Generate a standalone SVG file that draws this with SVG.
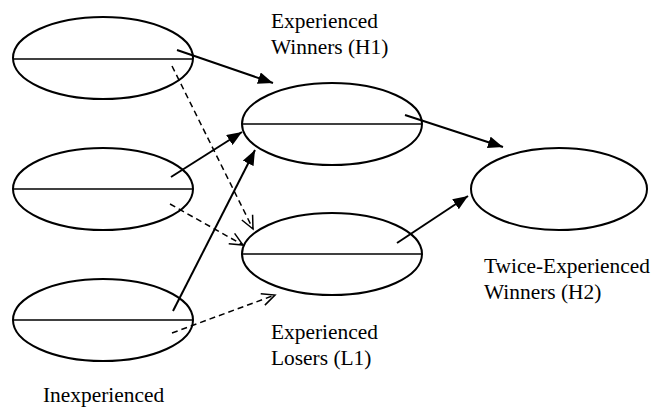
<svg xmlns="http://www.w3.org/2000/svg" width="652" height="407" viewBox="0 0 652 407">
<defs>
<style>
.node ellipse{fill:none;stroke:#000;stroke-width:2}
.node line{stroke:#000;stroke-width:1.6}
.solid{stroke:#000;stroke-width:2;fill:none}
.dash{stroke:#000;stroke-width:1.5;fill:none;stroke-dasharray:6 4}
text{font-family:"Liberation Serif","Times New Roman",serif;font-size:21.4px;fill:#000}
</style>
<marker id="fill" markerUnits="userSpaceOnUse" markerWidth="16" markerHeight="12" refX="15" refY="6" orient="auto">
<path d="M0,0 L15,6 L0,12 z" fill="#000"/>
</marker>
<marker id="open" markerUnits="userSpaceOnUse" markerWidth="16" markerHeight="14" refX="14" refY="7" orient="auto">
<path d="M1,1 L14,7 L1,13" fill="none" stroke="#000" stroke-width="1.5"/>
</marker>
</defs>
<rect width="652" height="407" fill="#fff"/>
<g id="inexp1" class="node"><ellipse cx="103" cy="58" rx="90" ry="41"/><line x1="13" y1="59" x2="193" y2="59"/></g>
<g id="inexp2" class="node"><ellipse cx="103" cy="189" rx="90" ry="41"/><line x1="13" y1="189" x2="193" y2="189"/></g>
<g id="inexp3" class="node"><ellipse cx="103" cy="320" rx="90" ry="41"/><line x1="13" y1="320" x2="193" y2="320"/></g>
<g id="h1" class="node"><ellipse cx="332" cy="124" rx="90" ry="41"/><line x1="242" y1="124" x2="422" y2="124"/></g>
<g id="l1" class="node"><ellipse cx="332" cy="254" rx="90" ry="41"/><line x1="242" y1="254" x2="422" y2="254"/></g>
<g id="h2" class="node"><ellipse cx="559" cy="189" rx="88" ry="41"/></g>
<g id="connectors">
<line class="solid" x1="177" y1="50" x2="273" y2="83" marker-end="url(#fill)"/>
<line class="solid" x1="171" y1="177" x2="242" y2="132" marker-end="url(#fill)"/>
<line class="solid" x1="173" y1="311" x2="255" y2="150" marker-end="url(#fill)"/>
<line class="solid" x1="405" y1="115" x2="503" y2="147" marker-end="url(#fill)"/>
<line class="solid" x1="397" y1="243" x2="468" y2="196" marker-end="url(#fill)"/>
<line class="dash" x1="172" y1="66" x2="253" y2="229" marker-end="url(#open)"/>
<line class="dash" x1="170" y1="204" x2="243" y2="245" marker-end="url(#open)"/>
<line class="dash" x1="172" y1="333" x2="275" y2="295" marker-end="url(#open)"/>
</g>
<g id="labels">
<text x="271" y="28">Experienced</text>
<text x="271" y="54">Winners (H1)</text>
<text x="484" y="273">Twice-Experienced</text>
<text x="484" y="299">Winners (H2)</text>
<text x="271" y="339">Experienced</text>
<text x="271" y="365">Losers (L1)</text>
<text x="43" y="402">Inexperienced</text>
</g>
</svg>
